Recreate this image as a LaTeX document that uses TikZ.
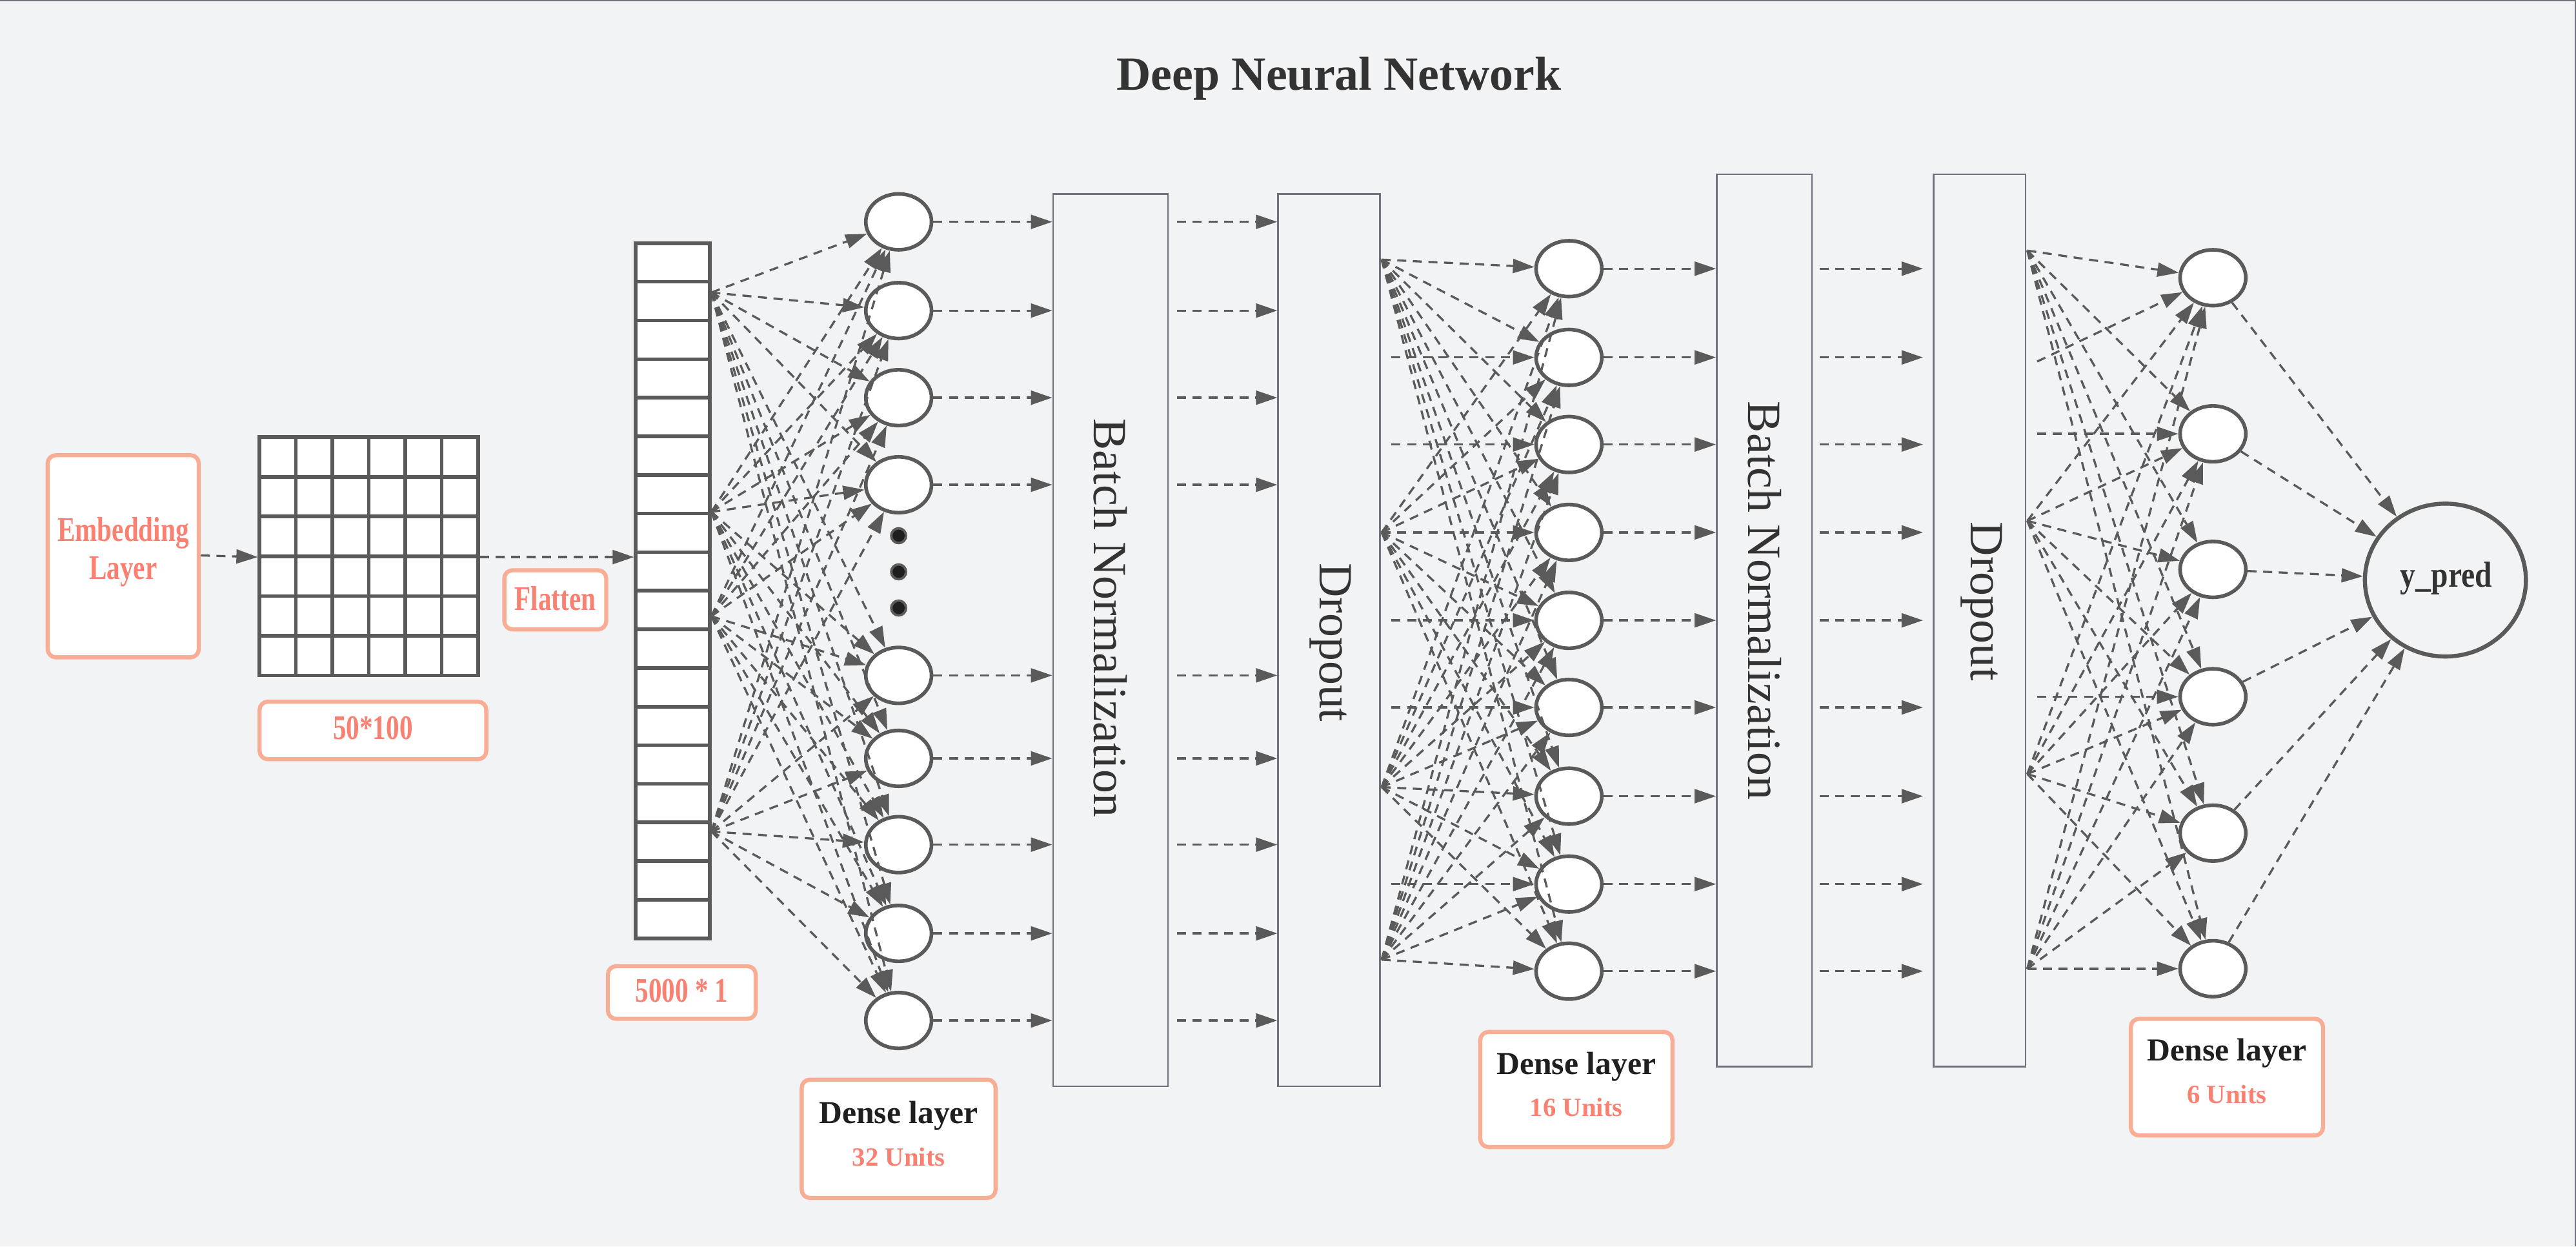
\documentclass[tikz,border=0pt]{standalone}
\usepackage{fontspec}
\setmainfont{Liberation Serif}
\newfontfamily\condfont[FakeStretch=0.77]{Liberation Serif}
\newfontfamily\ypfont[FakeStretch=0.85]{Liberation Serif}
\usetikzlibrary{arrows.meta,shapes.geometric}
\definecolor{bgc}{HTML}{F2F3F5}
\definecolor{salm}{HTML}{FA8072}
\definecolor{salmb}{HTML}{F8AD95}
\definecolor{lnc}{HTML}{5A5A5A}
\definecolor{boxc}{HTML}{6F727C}
\definecolor{txtc}{HTML}{333333}
\tikzset{
  conn/.style={draw=lnc, line width=1.3pt, dash pattern=on 5.5pt off 4pt, -{Triangle[length=13pt,width=8.5pt]}},
  neuron/.style={ellipse, draw=lnc, line width=2.2pt, fill=white, minimum width=40pt, minimum height=34pt, inner sep=0pt},
  salbox/.style={draw=salmb, line width=2.5pt, fill=white, rounded corners=5pt, inner sep=0pt, align=center},
  layerbox/.style={draw=boxc, line width=1pt, fill=bgc, inner sep=0pt},
  vtext/.style={rotate=-90, text=txtc, font=\fontsize{29}{34}\selectfont, inner sep=0pt},
  saltext/.style={text=salm, font=\condfont\bfseries\fontsize{21}{23}\selectfont},
  dot/.style={circle, fill=black!88, draw=lnc, line width=1.5pt, minimum size=9pt, inner sep=0pt},
  gridln/.style={draw=lnc, line width=2.2pt},
}
\begin{document}
\begin{tikzpicture}[x=1pt, y=-1pt]
\useasboundingbox (0,0) rectangle (1568,758.5);
\fill[bgc] (0,0) rectangle (1568,758.5);
\draw[boxc, line width=0.8pt] (0,0.3) -- (1567.7,0.3) -- (1567.7,758.5);

% title
\node[font=\bfseries\fontsize{29}{34}\selectfont, text=txtc] (title) at (815,48) {Deep Neural Network};

% embedding
\node[salbox, minimum width=92pt, minimum height=123pt] (emb) at (75,338.5) {};
\node[saltext, align=center] (embt) at (75,336) {Embedding\\Layer};

% grid
\node[draw=lnc, line width=2.2pt, fill=white, minimum width=133pt, minimum height=145pt, inner sep=0pt] (grid) at (224.5,338.5) {};
\foreach \i in {1,...,5}{
  \draw[gridln] ({158+\i*22.1667},266) -- ({158+\i*22.1667},411);
  \draw[gridln] (158,{266+\i*24.1667}) -- (291,{266+\i*24.1667});
}
\node[salbox, minimum width=138pt, minimum height=35pt] (gsz) at (227,444.5) {};
\node[saltext] (gszt) at (227,443) {50*100};

% flatten
\node[salbox, minimum width=62pt, minimum height=36pt] (flb) at (338,365) {};
\node[saltext] (flbt) at (338,364) {Flatten};
\node[draw=lnc, line width=2.2pt, fill=white, minimum width=45pt, minimum height=423pt, inner sep=0pt] (fl) at (409.5,359.5) {};
\foreach \k in {1,...,17}{
  \draw[gridln] (387,{148+\k*23.5}) -- (432,{148+\k*23.5});
}
\node[salbox, minimum width=90pt, minimum height=32pt] (flsz) at (415,604) {};
\node[saltext] (flszt) at (415,603) {5000 * 1};

\draw[conn] (emb.east |- 0,338) -- (grid.west |- 0,339);
\draw[conn] (grid.east |- 0,339) -- (fl.west |- 0,339);

% dense layer 1
\foreach \n/\y in {1/135,2/189,3/242,4/295,5/411,6/461.5,7/514,8/568,9/621}{
  \node[neuron] (a\n) at (547,\y) {};
}
\node[dot] (d1) at (547,326) {};
\node[dot] (d2) at (547,348) {};
\node[dot] (d3) at (547,370) {};

\coordinate (fs1) at (433,178);
\coordinate (fs2) at (433,311.5);
\coordinate (fs3) at (433,375);
\coordinate (fs4) at (433,506);
\foreach \s in {fs1,fs2,fs3,fs4}{
  \foreach \t in {a1,a2,a3,a4,a5,a6,a7,a8,a9}{
    \draw[conn] (\s) -- (\t);
  }
}

% BN1 and Dropout1
\node[layerbox, minimum width=70pt, minimum height=543pt] (bn1) at (676,389.5) {};
\node[vtext] (bn1t) at (676,376) {Batch Normalization};
\node[layerbox, minimum width=62pt, minimum height=543pt] (do1) at (809,389.5) {};
\node[vtext] (do1t) at (810,391) {Dropout};

\foreach \n in {1,...,9}{
  \draw[conn] (a\n.east) -- (a\n.east -| bn1.west);
  \draw[conn] ([xshift=5pt]a\n.east -| bn1.east) -- (a\n.east -| do1.west);
}

% dense layer 2
\foreach \n/\y in {1/163.5,2/217.5,3/270.5,4/324,5/377.5,6/430.5,7/484.5,8/538,9/591}{
  \node[neuron] (b\n) at (955,\y) {};
}
\coordinate (ds1) at (841,158);
\coordinate (ds2) at (841,324);
\coordinate (ds3) at (841,479);
\coordinate (ds4) at (841,584);
\foreach \s in {ds1,ds2,ds3,ds4}{
  \foreach \t in {b1,b2,b3,b4,b5,b6,b7,b8,b9}{
    \draw[conn] (\s) -- (\t);
  }
}
\foreach \n in {2,3,5,6,8}{
  \coordinate (dh\n) at (847,0 |- b\n.west);
  \draw[conn] (dh\n) -- (b\n.west);
}

% BN2 and Dropout2
\node[layerbox, minimum width=58pt, minimum height=543pt] (bn2) at (1074,377.5) {};
\node[vtext] (bn2t) at (1074,365.5) {Batch Normalization};
\node[layerbox, minimum width=56pt, minimum height=543pt] (do2) at (1205,377.5) {};
\node[vtext] (do2t) at (1206,366) {Dropout};

\foreach \n in {1,...,9}{
  \draw[conn] (b\n.east) -- (b\n.east -| bn2.west);
  \draw[conn] ([xshift=4pt]b\n.east -| bn2.east) -- ([xshift=-6pt]b\n.east -| do2.west);
}

% dense layer 3
\foreach \n/\y in {1/169,2/264,3/346.5,4/424,5/507,6/589.5}{
  \node[neuron] (c\n) at (1347,\y) {};
}
\coordinate (es1) at (1234,152.5);
\coordinate (es2) at (1234,317);
\coordinate (es3) at (1234,471);
\coordinate (es4) at (1234,589.5);
\foreach \s in {es1,es2,es3,es4}{
  \foreach \t in {c1,c2,c3,c4,c5,c6}{
    \draw[conn] (\s) -- (\t);
  }
}
\coordinate (eh2) at (1240,264);
\coordinate (eh4) at (1240,424);
\coordinate (eh0) at (1240,220);
\draw[conn] (eh2) -- (c2.west);
\draw[conn] (eh4) -- (c4.west);
\draw[conn] (eh0) -- (c1);

% output
\node[ellipse, draw=lnc, line width=2.5pt, fill=bgc, minimum width=98pt, minimum height=93pt, inner sep=0pt] (yp) at (1488.5,353) {};
\node[font=\ypfont\bfseries\fontsize{22}{26}\selectfont, text=txtc] (ypt) at (1489,352) {y\_pred};
\foreach \n in {1,...,6}{
  \draw[conn] (c\n) -- (yp);
}

% dense layer labels
\node[salbox, minimum width=118pt, minimum height=72pt] (l1) at (547,693) {};
\node[font=\bfseries\fontsize{19.5}{22}\selectfont, text=black!88] (l1a) at (547,679) {Dense layer};
\node[font=\bfseries\fontsize{16}{19}\selectfont, text=salm] (l1b) at (547,704) {32 Units};

\node[salbox, minimum width=117pt, minimum height=70pt] (l2) at (959.5,663) {};
\node[font=\bfseries\fontsize{19.5}{22}\selectfont, text=black!88] (l2a) at (959.5,649) {Dense layer};
\node[font=\bfseries\fontsize{16}{19}\selectfont, text=salm] (l2b) at (959.5,674) {16 Units};

\node[salbox, minimum width=117pt, minimum height=71pt] (l3) at (1355.5,655.5) {};
\node[font=\bfseries\fontsize{19.5}{22}\selectfont, text=black!88] (l3a) at (1355.5,641) {Dense layer};
\node[font=\bfseries\fontsize{16}{19}\selectfont, text=salm] (l3b) at (1355.5,666) {6 Units};
\end{tikzpicture}
\end{document}
